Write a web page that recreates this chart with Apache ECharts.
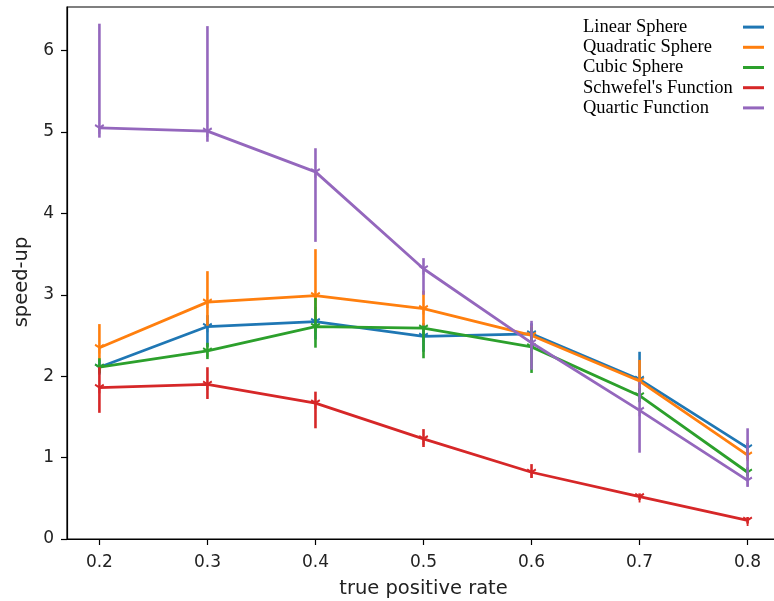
<!DOCTYPE html>
<html>
<head>
<meta charset="utf-8">
<script src="https://cdn.jsdelivr.net/npm/echarts@6/dist/echarts.min.js"></script>
<style>
html,body{margin:0;padding:0;background:#fff;}
#chart{width:774px;height:601px;}
</style>
</head>
<body>
<div id="chart"></div>
<script>
// ---- data ----
const tprValues = [0.2, 0.3, 0.4, 0.5, 0.6, 0.7, 0.8];
const xTickLabels = [0.2, 0.3, 0.4, 0.5, 0.6, 0.7, 0.8];
const yTickLabels = [0, 1, 2, 3, 4, 5, 6];

const seriesNames = ["Linear Sphere", "Quadratic Sphere", "Cubic Sphere", "Schwefel's Function", "Quartic Function"];

const linearMean = [2.11, 2.61, 2.67, 2.49, 2.52, 1.96, 1.12];
const linearLow  = [2.02, 2.36, 2.45, 2.30, 2.35, 1.80, 1.05];
const linearHigh = [2.20, 2.75, 2.85, 2.65, 2.65, 2.30, 1.18];

const quadMean = [2.35, 2.91, 2.99, 2.83, 2.50, 1.94, 1.03];
const quadLow  = [2.20, 2.62, 2.70, 2.62, 2.38, 1.80, 0.98];
const quadHigh = [2.64, 3.29, 3.56, 3.05, 2.62, 2.20, 1.10];

const cubicMean = [2.11, 2.31, 2.61, 2.59, 2.36, 1.76, 0.82];
const cubicLow  = [2.04, 2.21, 2.35, 2.22, 2.04, 1.68, 0.77];
const cubicHigh = [2.22, 2.41, 2.96, 2.62, 2.60, 1.85, 0.88];

const schwefelMean = [1.86, 1.90, 1.67, 1.23, 0.82, 0.52, 0.23];
const schwefelLow  = [1.55, 1.72, 1.36, 1.13, 0.75, 0.48, 0.19];
const schwefelHigh = [2.11, 2.11, 1.81, 1.35, 0.92, 0.56, 0.27];

const quarticMean = [5.05, 5.01, 4.51, 3.32, 2.41, 1.58, 0.72];
const quarticLow  = [4.93, 4.88, 3.65, 3.00, 2.08, 1.06, 0.64];
const quarticHigh = [6.33, 6.30, 4.80, 3.45, 2.68, 1.93, 1.36];

const means = [linearMean, quadMean, cubicMean, schwefelMean, quarticMean];
const lows = [linearLow, quadLow, cubicLow, schwefelLow, quarticLow];
const highs = [linearHigh, quadHigh, cubicHigh, schwefelHigh, quarticHigh];
const colors = ['#1f77b4', '#ff7f0e', '#2ca02c', '#d62728', '#9467bd'];

const triDown = 'path://M0,0L0,10M0,0L-8.66,-5M0,0L8.66,-5M0,-10';

const series = [];
seriesNames.forEach(function (name, i) {
  const c = colors[i];
  series.push({
    type: 'custom',
    name: name + ' error',
    silent: true,
    z: 2 + 2 * i,
    encode: { x: 0, y: [1, 2] },
    data: tprValues.map(function (xv, j) { return [xv, lows[i][j], highs[i][j]]; }),
    renderItem: function (params, api) {
      const p1 = api.coord([api.value(0), api.value(1)]);
      const p2 = api.coord([api.value(0), api.value(2)]);
      return {
        type: 'line',
        shape: { x1: p1[0], y1: p1[1], x2: p2[0], y2: p2[1] },
        style: { stroke: c, lineWidth: 2.6 }
      };
    }
  });
  series.push({
    type: 'line',
    name: name,
    z: 3 + 2 * i,
    data: tprValues.map(function (xv, j) { return [xv, means[i][j]]; }),
    symbol: triDown,
    symbolSize: [10, 11.55],
    symbolKeepAspect: true,
    showSymbol: true,
    lineStyle: { color: c, width: 2.8 },
    itemStyle: { color: c, borderColor: c, borderWidth: 2 },
    emphasis: { disabled: true }
  });
});

const chart = echarts.init(document.getElementById('chart'), null, { renderer: 'canvas' });
chart.setOption({
  animation: false,
  backgroundColor: '#fff',
  grid: {
    left: 67, top: 7, width: 713, height: 532,
    containLabel: false, outerBoundsMode: 'none',
    show: true, borderColor: '#000', borderWidth: 1.2, backgroundColor: 'transparent'
  },
  legend: {
    data: seriesNames,
    orient: 'vertical',
    left: 583, top: 17,
    padding: 0,
    itemGap: 0,
    itemWidth: 21, itemHeight: 3,
    align: 'right',
    icon: 'rect',
    itemStyle: { borderWidth: 0 },
    selectedMode: false,
    formatter: '{t|{name}}',
    textStyle: {
      fontFamily: 'Liberation Serif', fontSize: 18.5, color: '#000', lineHeight: 20.2,
      rich: {
        t: { width: 155, align: 'left', fontFamily: 'Liberation Serif', fontSize: 18.5, color: '#000', lineHeight: 20.2 }
      }
    }
  },
  xAxis: {
    type: 'value',
    min: 0.17, max: 0.83,
    name: 'true positive rate',
    nameLocation: 'middle',
    nameGap: 40,
    nameTextStyle: { fontFamily: 'DejaVu Sans', fontSize: 19.5, color: '#222' },
    splitLine: { show: false },
    axisLine: { show: true, lineStyle: { color: '#000', width: 1.2 } },
    axisTick: { show: true, length: 6, customValues: xTickLabels, lineStyle: { color: '#000', width: 1.2 } },
    axisLabel: {
      customValues: xTickLabels, margin: 15,
      formatter: function (v) { return v.toFixed(1); },
      fontFamily: 'DejaVu Sans', fontSize: 17, color: '#222'
    }
  },
  yAxis: {
    type: 'value',
    min: 0, max: 6.535,
    name: 'speed-up',
    nameLocation: 'middle',
    nameGap: 35,
    nameTextStyle: { fontFamily: 'DejaVu Sans', fontSize: 19.5, color: '#222', padding: [0, 18, 0, 0] },
    splitLine: { show: false },
    axisLine: { show: true, lineStyle: { color: '#000', width: 1.2 } },
    axisTick: { show: true, length: 6, customValues: yTickLabels, lineStyle: { color: '#000', width: 1.2 } },
    axisLabel: {
      customValues: yTickLabels, margin: 13,
      fontFamily: 'DejaVu Sans', fontSize: 17, color: '#222'
    }
  },
  series: series
});
</script>
</body>
</html>
